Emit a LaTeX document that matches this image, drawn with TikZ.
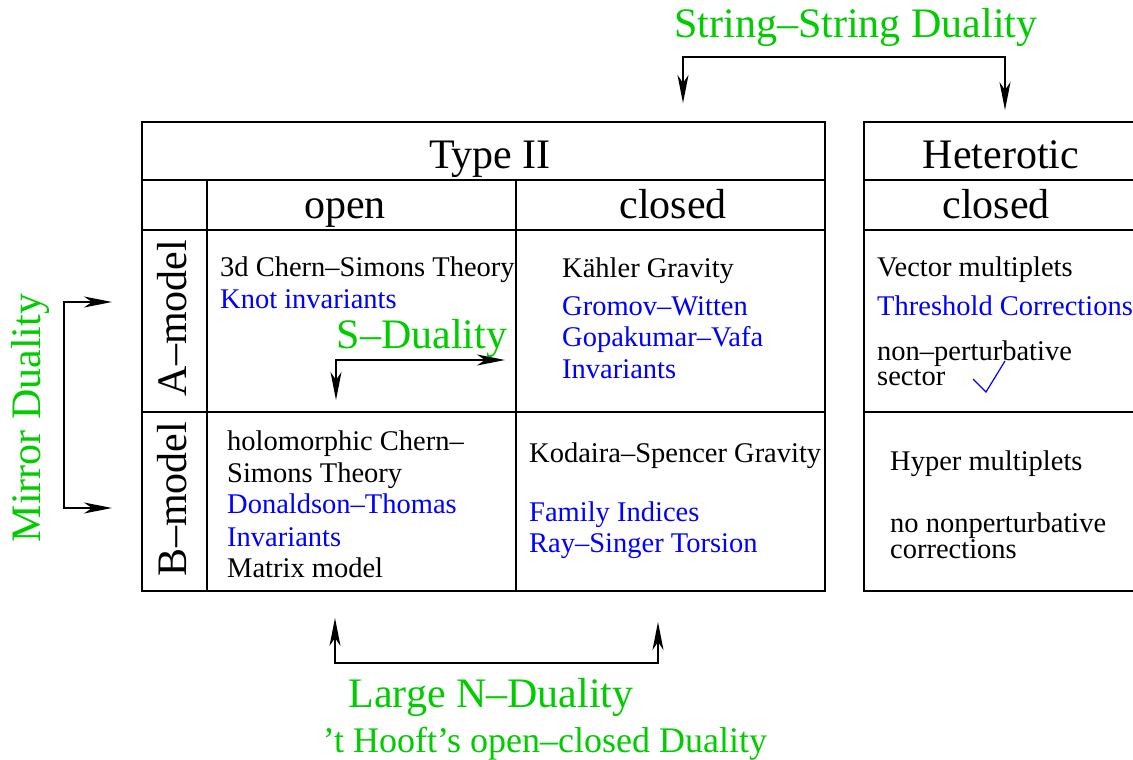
\documentclass[tikz,border=0pt]{standalone}
\usepackage{fontspec}
\setmainfont{Liberation Serif}
\usetikzlibrary{arrows.meta}
\definecolor{dualgreen}{RGB}{0,204,0}
\definecolor{invblue}{RGB}{0,0,255}
\begin{document}
\begin{tikzpicture}[x=1pt, y=-1pt,
        every node/.style={inner sep=0pt},
        cell/.style={anchor=base west, font=\fontsize{28.5}{34}\selectfont},
        pair/.style={cell, align=left, font=\fontsize{28.5}{24.5}\selectfont},
        inv/.style={cell, text=invblue},
        head/.style={anchor=base, font=\fontsize{42}{50}\selectfont},
        model/.style={rotate=90, font=\fontsize{42}{50}\selectfont},
        duality/.style={anchor=base, text=dualgreen, font=\fontsize{42}{50}\selectfont},
        dualarrow/.style={line width=1.2pt, {Stealth[length=28pt, width=11pt, inset=8pt]}-{Stealth[length=28pt, width=11pt, inset=8pt]}},
        grid/.style={line width=1.3pt}]
        \useasboundingbox (0,0) rectangle (1133,760);

        % Type II table
        \draw[grid] (142,122) rectangle (825,591);
        \draw[grid] (142,180) -- (825,180);
        \draw[grid] (142,230) -- (825,230);
        \draw[grid] (142,412) -- (825,412);
        \draw[grid] (207,180) -- (207,591);
        \draw[grid] (516,180) -- (516,591);

        % Heterotic table
        \draw[grid] (1133,122) -- (864,122) -- (864,591) -- (1133,591);
        \draw[grid] (864,180) -- (1133,180);
        \draw[grid] (864,230) -- (1133,230);
        \draw[grid] (864,412) -- (1133,412);

        \node[head] (typeii) at (490,168) {Type II};
        \node[head] (open) at (345,218) {open};
        \node[head] (closed) at (673,218) {closed};
        \node[head] (heterotic) at (1001,168) {Heterotic};
        \node[head] (hclosed) at (996,218) {closed};

        \node[model] (amodel) at (172,318) {A--model};
        \node[model] (bmodel) at (172,499) {B--model};

        % A-model
        \node[cell] (cs) at (220,276) {3d Chern--Simons Theory};
        \node[inv] (knot) at (220,308) {Knot invariants};
        \node[cell] (kahler) at (562,277) {Kähler Gravity};
        \node[inv] (gw) at (562,315) {Gromov--Witten};
        \node[inv] (gv) at (562,346) {Gopakumar--Vafa};
        \node[inv] (ainv) at (562,378) {Invariants};
        \node[cell] (vector) at (877,276) {Vector multiplets};
        \node[inv] (threshold) at (877,315) {Threshold Corrections};
        \node[pair] (nonpert) at (877,385) {non--perturbative\\sector};
        \draw[invblue, line width=1.2pt] (973,379) -- (986,392) -- (1005,361);

        % B-model
        \node[cell] (hcs) at (227,450) {holomorphic Chern--};
        \node[cell] (simons) at (227,482) {Simons Theory};
        \node[inv] (dt) at (227,513) {Donaldson--Thomas};
        \node[inv] (binv) at (227,546) {Invariants};
        \node[cell] (matrix) at (227,577) {Matrix model};
        \node[cell] (ks) at (529,462) {Kodaira--Spencer Gravity};
        \node[inv] (family) at (529,521) {Family Indices};
        \node[inv] (rs) at (529,552) {Ray--Singer Torsion};
        \node[cell] (hyper) at (890,470) {Hyper multiplets};
        \node[pair] (nononpert) at (890,558) {no nonperturbative\\corrections};

        % dualities
        \node[duality] (stringstring) at (856,38) {String--String Duality};
        \node[duality] (sduality) at (422,348) {S--Duality};
        \node[duality] (largen) at (491,707) {Large N--Duality};
        \node[duality, font=\fontsize{36}{42}\selectfont] (thooft) at (545,752) {'t Hooft's open--closed Duality};
        \node[duality, anchor=center, rotate=90] (mirror) at (30,418) {Mirror Duality};

        \coordinate (ssA) at (683,103);
        \coordinate (ssB) at (683,57);
        \coordinate (ssC) at (1005,57);
        \coordinate (ssD) at (1005,110);
        \draw[dualarrow] (ssA) -- (ssB) -- (ssC) -- (ssD);

        \coordinate (sdA) at (336,400);
        \coordinate (sdB) at (336,360);
        \coordinate (sdC) at (505,360);
        \draw[dualarrow] (sdA) -- (sdB) -- (sdC);

        \coordinate (mdA) at (112,302);
        \coordinate (mdB) at (64,302);
        \coordinate (mdC) at (64,508);
        \coordinate (mdD) at (112,508);
        \draw[dualarrow] (mdA) -- (mdB) -- (mdC) -- (mdD);

        \coordinate (lnA) at (335,618);
        \coordinate (lnB) at (335,663);
        \coordinate (lnC) at (658,663);
        \coordinate (lnD) at (658,622);
        \draw[dualarrow] (lnA) -- (lnB) -- (lnC) -- (lnD);
    \end{tikzpicture}
\end{document}
